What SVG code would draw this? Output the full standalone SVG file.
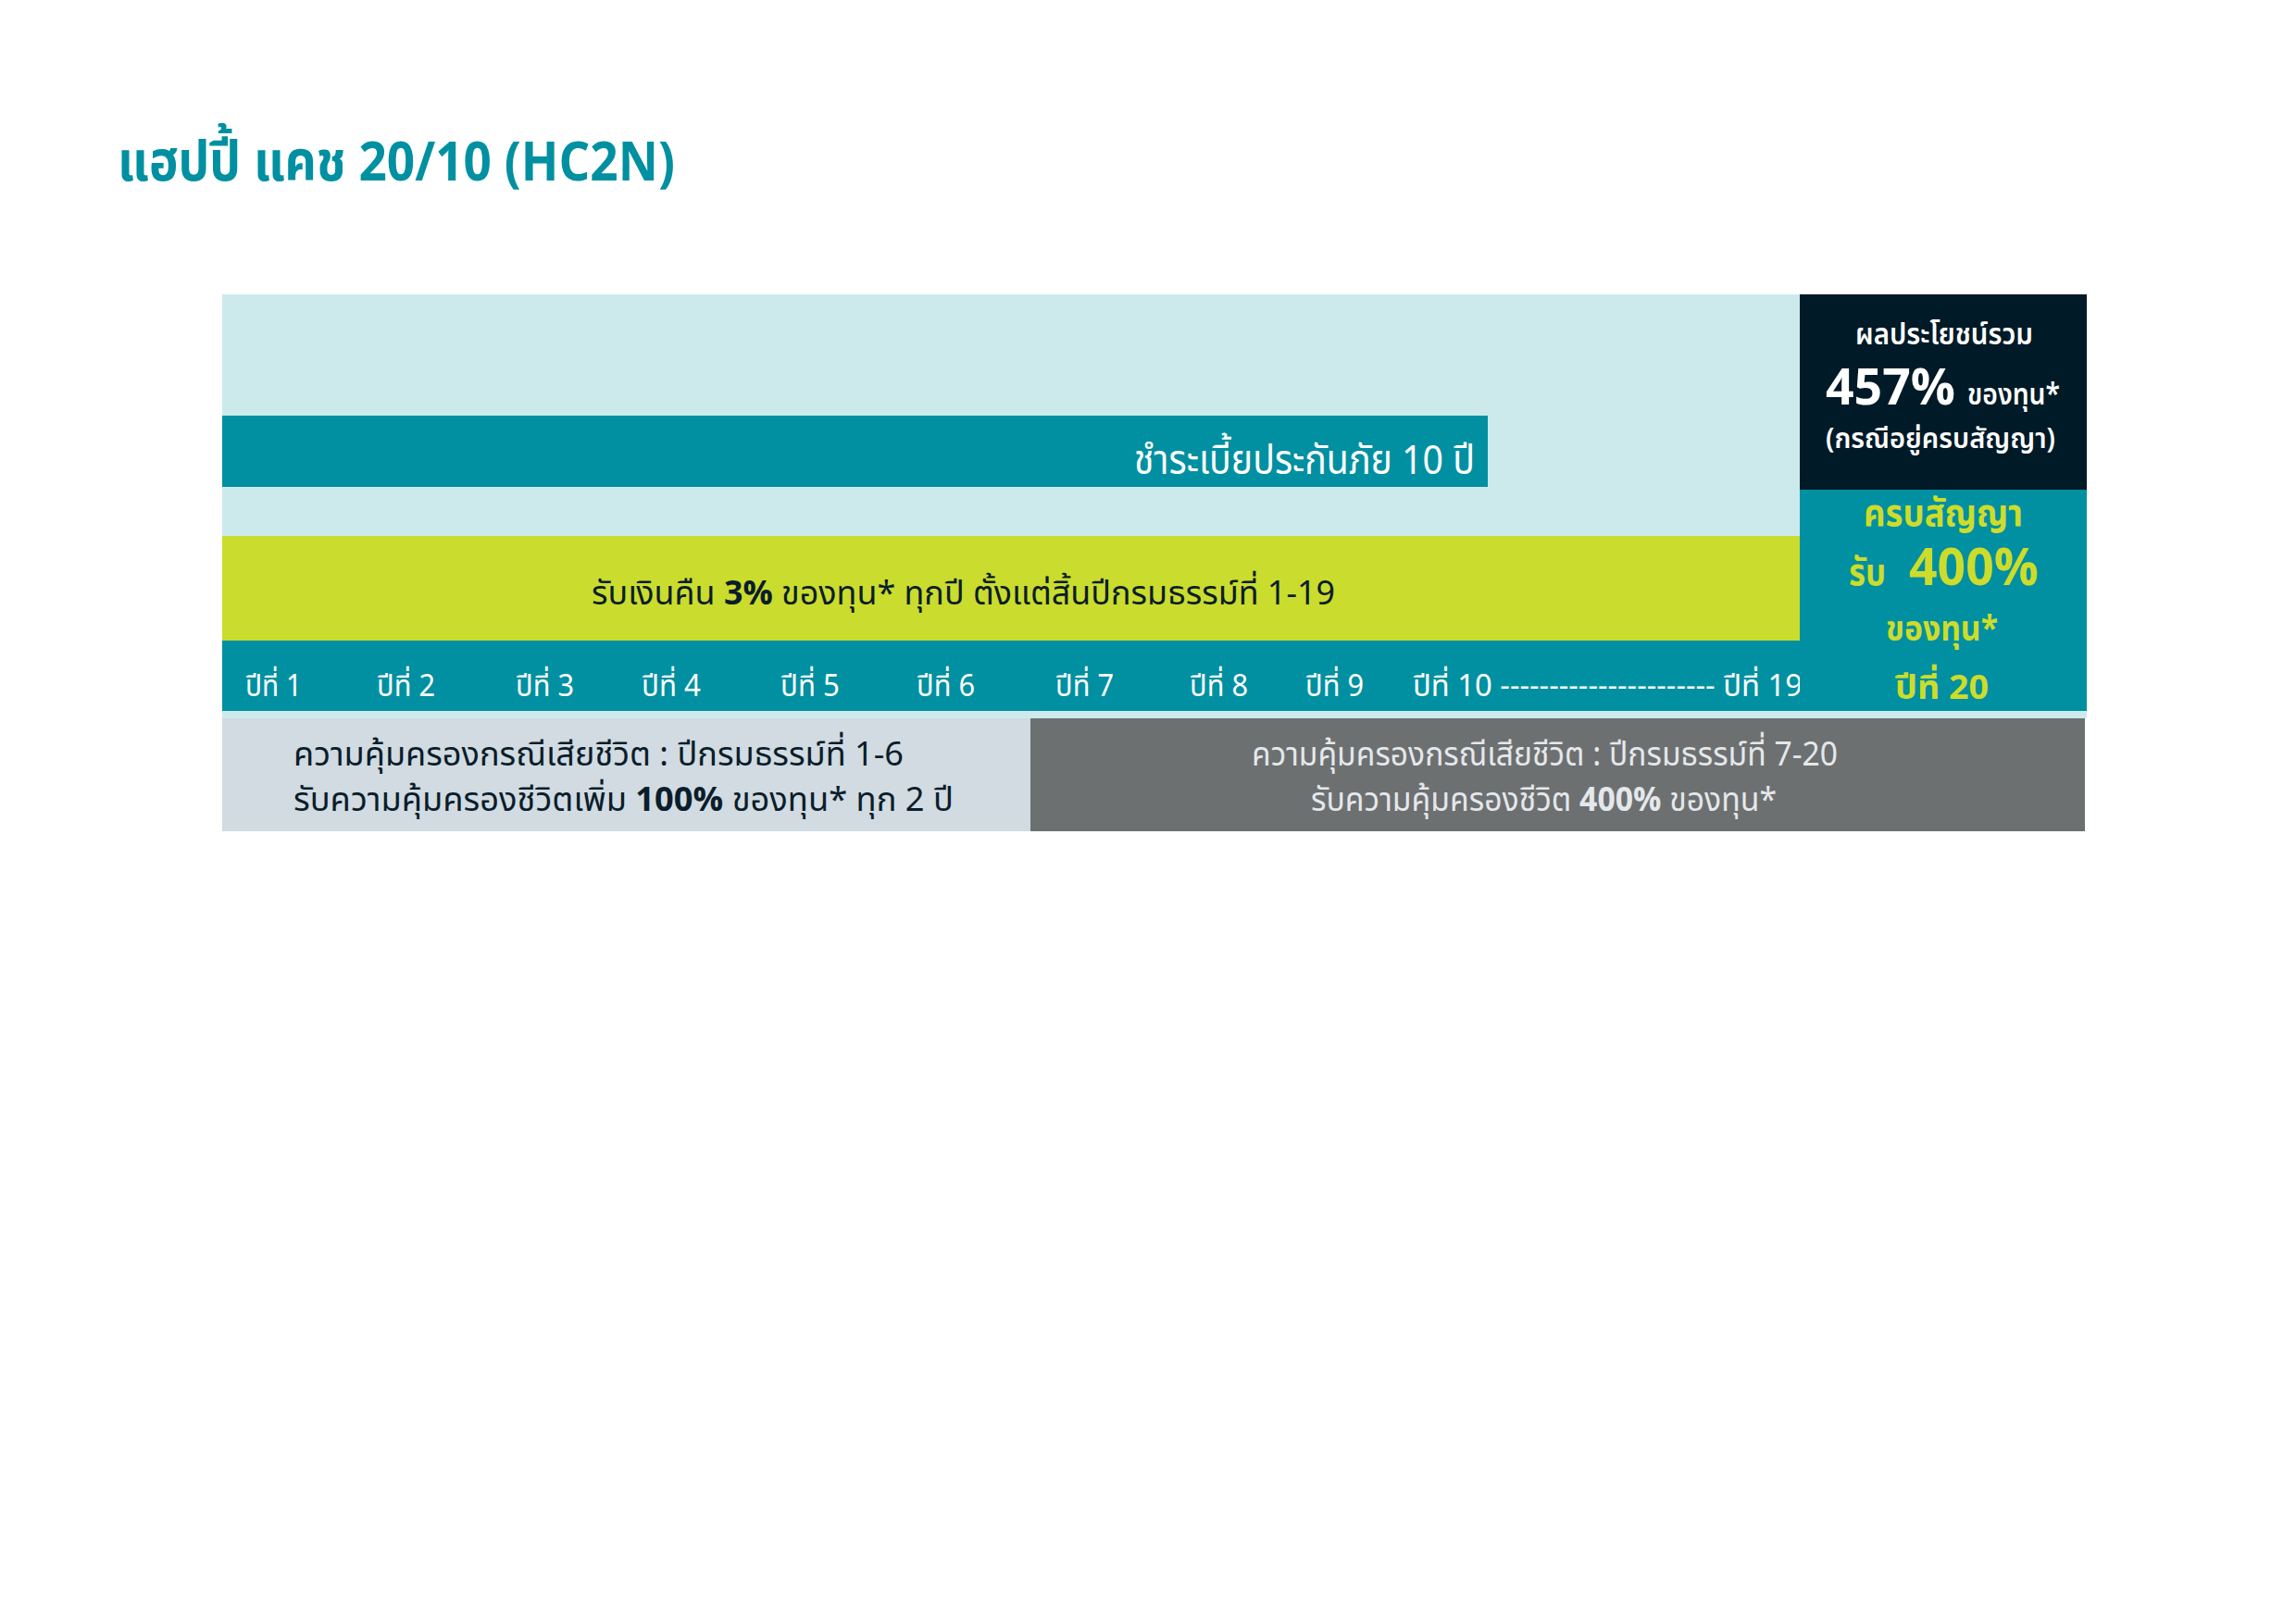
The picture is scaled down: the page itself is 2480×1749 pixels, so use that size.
<svg xmlns="http://www.w3.org/2000/svg" width="2480" height="1749" viewBox="0 0 2480 1749">
<style>
text{font-family:'Noto Sans Thai','Noto Sans','DejaVu Sans',sans-serif;}
.w{fill:#ffffff;}
.yl{fill:#cddc2b;font-weight:bold;}
.tl{font-size:32px;fill:#ffffff;}
.dk{fill:#0b1d2b;}
.lt{fill:#e4e8eb;}
.b{font-weight:bold;}
</style>
<rect x="0" y="0" width="2480" height="1749" fill="#ffffff"/>
<g id="title">
<text x="127" y="195" font-size="60" font-weight="bold" fill="#0090a1" textLength="602" lengthAdjust="spacingAndGlyphs">แฮปปี้ แคช 20/10 (HC2N)</text>
</g>
<g id="background">
<rect x="240" y="318" width="2014" height="458" fill="#cceaec"/>
</g>
<g id="premium-bar">
<rect x="240" y="449" width="1367" height="77" fill="#0090a1"/>
<text class="w" x="1225" y="512" font-size="44" textLength="368" lengthAdjust="spacingAndGlyphs">ชำระเบี้ยประกันภัย 10 ปี</text>
</g>
<g id="cashback-bar">
<rect x="240" y="579" width="1704" height="113" fill="#cadc2d"/>
<text class="dk" x="639" y="653" font-size="36" textLength="803" lengthAdjust="spacingAndGlyphs">รับเงินคืน <tspan class="b">3%</tspan> ของทุน* ทุกปี ตั้งแต่สิ้นปีกรมธรรม์ที่ 1-19</text>
</g>
<g id="timeline">
<rect x="240" y="692" width="2014" height="76" fill="#0090a1"/>
<text class="tl" x="265" y="752" textLength="61" lengthAdjust="spacingAndGlyphs">ปีที่ 1</text>
<text class="tl" x="407" y="752" textLength="63" lengthAdjust="spacingAndGlyphs">ปีที่ 2</text>
<text class="tl" x="557" y="752" textLength="63" lengthAdjust="spacingAndGlyphs">ปีที่ 3</text>
<text class="tl" x="693" y="752" textLength="64" lengthAdjust="spacingAndGlyphs">ปีที่ 4</text>
<text class="tl" x="843" y="752" textLength="64" lengthAdjust="spacingAndGlyphs">ปีที่ 5</text>
<text class="tl" x="990" y="752" textLength="63" lengthAdjust="spacingAndGlyphs">ปีที่ 6</text>
<text class="tl" x="1140" y="752" textLength="63" lengthAdjust="spacingAndGlyphs">ปีที่ 7</text>
<text class="tl" x="1285" y="752" textLength="63" lengthAdjust="spacingAndGlyphs">ปีที่ 8</text>
<text class="tl" x="1410" y="752" textLength="63" lengthAdjust="spacingAndGlyphs">ปีที่ 9</text>
<text class="tl" x="1526" y="752" textLength="421" lengthAdjust="spacingAndGlyphs">ปีที่ 10 ---------------------- ปีที่ 19</text>
</g>
<g id="total-benefit">
<rect x="1944" y="318" width="310" height="211" fill="#001a27"/>
<text class="w" x="2004" y="372" font-size="32" font-weight="600" textLength="192" lengthAdjust="spacingAndGlyphs">ผลประโยชน์รวม</text>
<text class="w" x="1972" y="437" font-size="54" font-weight="bold" textLength="140" lengthAdjust="spacingAndGlyphs">457%</text>
<text class="w" x="2125" y="437" font-size="32" font-weight="600" textLength="100" lengthAdjust="spacingAndGlyphs">ของทุน*</text>
<text class="w" x="1972" y="484" font-size="31" font-weight="600" textLength="248" lengthAdjust="spacingAndGlyphs">(กรณีอยู่ครบสัญญา)</text>
</g>
<g id="maturity">
<rect x="1944" y="529" width="310" height="239" fill="#0090a1"/>
<text class="yl" x="2013" y="568" font-size="40" textLength="172" lengthAdjust="spacingAndGlyphs">ครบสัญญา</text>
<text class="yl" x="1997" y="632" font-size="40" textLength="40" lengthAdjust="spacingAndGlyphs">รับ</text>
<text class="yl" x="2062" y="632" font-size="56" textLength="140" lengthAdjust="spacingAndGlyphs">400%</text>
<text class="yl" x="2037" y="692" font-size="38" textLength="121" lengthAdjust="spacingAndGlyphs">ของทุน*</text>
<text class="yl" x="2047" y="755" font-size="36" textLength="101" lengthAdjust="spacingAndGlyphs">ปีที่ 20</text>
</g>
<g id="coverage-1-6">
<rect x="240" y="776" width="873" height="122" fill="#d1dbe1"/>
<text class="dk" x="317" y="827" font-size="36" textLength="659" lengthAdjust="spacingAndGlyphs">ความคุ้มครองกรณีเสียชีวิต : ปีกรมธรรม์ที่ 1-6</text>
<text class="dk" x="317" y="876" font-size="36" textLength="713" lengthAdjust="spacingAndGlyphs">รับความคุ้มครองชีวิตเพิ่ม <tspan class="b">100%</tspan> ของทุน* ทุก 2 ปี</text>
</g>
<g id="coverage-7-20">
<rect x="1113" y="776" width="1139" height="122" fill="#6d7071"/>
<text class="lt" x="1352" y="827" font-size="36" textLength="633" lengthAdjust="spacingAndGlyphs">ความคุ้มครองกรณีเสียชีวิต : ปีกรมธรรม์ที่ 7-20</text>
<text class="lt" x="1416" y="876" font-size="36" textLength="503" lengthAdjust="spacingAndGlyphs">รับความคุ้มครองชีวิต <tspan class="b">400%</tspan> ของทุน*</text>
</g>
<g id="connectors"></g>
</svg>
